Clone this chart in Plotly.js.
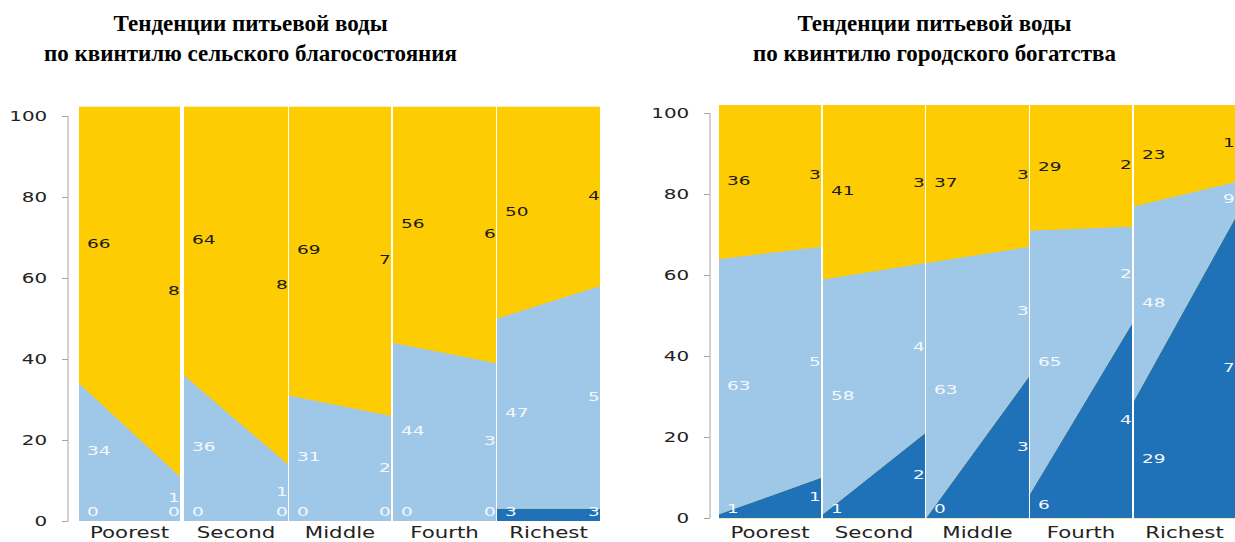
<!DOCTYPE html>
<html>
<head>
<meta charset="utf-8">
<script src="https://cdn.plot.ly/plotly-3.0.1.min.js"></script>
<style>html,body{margin:0;padding:0;background:#fff;}#chart{width:1235px;height:542px;}</style>
</head>
<body>
<div id="chart"></div>
<script>
// ---- data ----
const groups = ['Poorest', 'Second', 'Middle', 'Fourth', 'Richest'];
const yTicks = [0, 20, 40, 60, 80, 100];

const ruralPipedStart = [0, 0, 0, 0, 3];
const ruralPipedEnd   = [0, 0, 0, 0, 3];
const ruralOtherStart = [34, 36, 31, 44, 47];
const ruralOtherEnd   = [11, 14, 26, 39, 55];
const ruralUnimpStart = [66, 64, 69, 56, 50];
const ruralUnimpEnd   = [89, 86, 74, 61, 42];

const urbanPipedStart = [1, 1, 0, 6, 29];
const urbanPipedEnd   = [10, 21, 35, 48, 74];
const urbanOtherStart = [63, 58, 63, 65, 48];
const urbanOtherEnd   = [57, 42, 32, 24, 9];
const urbanUnimpStart = [36, 41, 37, 29, 23];
const urbanUnimpEnd   = [33, 37, 33, 28, 17];

const titleRural = 'Тенденции питьевой воды<br>по квинтилю сельского благосостояния';
const titleUrban = 'Тенденции питьевой воды<br>по квинтилю городского богатства';

// ---- layout helpers ----
const W = 1235, H = 542;
const DARK = '#1f71b8', LIGHT = '#9fc8e8', YEL = '#fdcc03';
const FONT = 'DejaVu Sans, Verdana, sans-serif';
const STRETCH = 1.42;

const panels = [
  {ps: ruralPipedStart, pe: ruralPipedEnd, os: ruralOtherStart, oe: ruralOtherEnd, us: ruralUnimpStart, ue: ruralUnimpEnd,
   dom: [[79,180],[184,288],[289,391],[393,496],[497,600]], y: 'y', yKey: 'yaxis', axisX: 68, yBottom: 521, yTopPx: 106.7, yMax: 102.3,
   title: titleRural, titleX: 250, standoff: 1},
  {ps: urbanPipedStart, pe: urbanPipedEnd, os: urbanOtherStart, oe: urbanOtherEnd, us: urbanUnimpStart, ue: urbanUnimpEnd,
   dom: [[719,821],[823,925],[926,1029],[1030,1132],[1134,1235]], y: 'y2', yKey: 'yaxis2', axisX: 710, yBottom: 518.3, yTopPx: 105, yMax: 102,
   title: titleUrban, titleX: 934, standoff: 4}
];

const traces = [];
const layout = {
  width: W, height: H, margin: {l: 0, r: 0, t: 0, b: 0},
  paper_bgcolor: '#ffffff', plot_bgcolor: YEL, showlegend: false,
  annotations: [], shapes: []
};

let k = 0;
panels.forEach((p, pi) => {
  const yd = [(H - p.yBottom) / H, (H - p.yTopPx) / H];
  layout[p.yKey] = {
    domain: yd, range: [0, p.yMax], anchor: 'free', position: p.axisX / W,
    showline: false, showgrid: false, zeroline: false,
    ticks: 'outside', ticklen: 6, tickcolor: '#a6a6a6', tickwidth: 1,
    tickvals: yTicks, ticktext: yTicks.map(String), ticklabelstandoff: 12,
    tickfont: {family: FONT, size: 14, color: '#222'}, fixedrange: true
  };
  layout.shapes.push({type: 'line', xref: 'paper', yref: p.y, x0: p.axisX / W, x1: p.axisX / W, y0: 0, y1: 100,
    line: {color: '#a6a6a6', width: 1}});
  layout.annotations.push({xref: 'paper', yref: 'paper', x: p.titleX / W, y: (H - 38) / H, xanchor: 'center', yanchor: 'middle',
    showarrow: false, text: '<b>' + p.title + '</b>', align: 'center',
    font: {family: 'Liberation Serif, Times New Roman, serif', size: 23, color: '#000'}});

  groups.forEach((g, i) => {
    k += 1;
    const xName = 'x' + (k === 1 ? '' : k);
    const xKey = 'xaxis' + (k === 1 ? '' : k);
    const d = p.dom[i];
    const wpx = d[1] - d[0];
    layout[xKey] = {
      domain: [d[0] / W, Math.min(d[1] / W, 1)], range: [0, 1], anchor: p.y,
      showgrid: false, zeroline: false, showline: false, ticks: '',
      tickvals: [0.5], ticktext: [g], ticklabelstandoff: p.standoff,
      tickfont: {family: FONT, size: 15, color: '#222'}, fixedrange: true
    };
    const s1 = p.ps[i], e1 = p.pe[i];
    const s2 = s1 + p.os[i], e2 = e1 + p.oe[i];
    const s3 = s2 + p.us[i], e3 = e2 + p.ue[i];
    const common = {x: [0, 1], xaxis: xName, yaxis: p.y, mode: 'none', hoverinfo: 'skip'};
    traces.push(Object.assign({}, common, {y: [s1, e1], fill: 'tozeroy', fillcolor: DARK}));
    traces.push(Object.assign({}, common, {y: [s2, e2], fill: 'tonexty', fillcolor: LIGHT}));
    traces.push(Object.assign({}, common, {y: [s3, e3], fill: 'tonexty', fillcolor: YEL}));

    const xs = 8 / wpx, xe = 1 - 12 / wpx;
    const mid = (a, b) => Math.max((a + b) / 2, 2);
    traces.push({
      x: [xs, xs, xs, xe, xe, xe],
      y: [mid(0, s1), mid(s1, s2), mid(s2, p.yMax), mid(0, e1), mid(e1, e2), mid(e2, p.yMax)],
      text: [p.ps[i], p.os[i], p.us[i], p.pe[i], p.oe[i], p.ue[i]].map(String),
      mode: 'text', textposition: 'middle right', cliponaxis: true,
      textfont: {family: FONT, size: 13, color: ['#f4f8fc', '#f4f8fc', '#1a1a1a', '#f4f8fc', '#f4f8fc', '#1a1a1a']},
      xaxis: xName, yaxis: p.y, hoverinfo: 'skip'
    });
  });
});

function stretchTexts(gd) {
  gd.querySelectorAll('g[class$="tick"] > text, g.textpoint > text').forEach(el => {
    const len = el.getComputedTextLength();
    if (len > 0) {
      el.setAttribute('textLength', (len * STRETCH).toFixed(2));
      el.setAttribute('lengthAdjust', 'spacingAndGlyphs');
    }
  });
}

Plotly.newPlot('chart', traces, layout, {displayModeBar: false, staticPlot: true})
  .then(gd => stretchTexts(gd));
</script>
</body>
</html>
